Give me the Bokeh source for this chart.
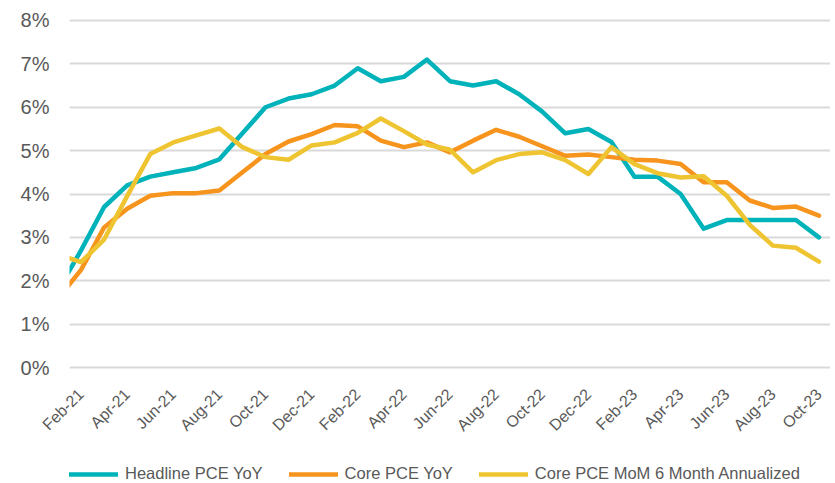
from bokeh.plotting import figure
from bokeh.models import Range1d, FixedTicker, Legend, LegendItem, ColumnDataSource
from bokeh.layouts import column
from bokeh.embed import file_html
from bokeh.resources import INLINE
import math

# ---- data ----
months = ["Jan-21", "Feb-21", "Mar-21", "Apr-21", "May-21", "Jun-21", "Jul-21", "Aug-21",
          "Sep-21", "Oct-21", "Nov-21", "Dec-21", "Jan-22", "Feb-22", "Mar-22", "Apr-22",
          "May-22", "Jun-22", "Jul-22", "Aug-22", "Sep-22", "Oct-22", "Nov-22", "Dec-22",
          "Jan-23", "Feb-23", "Mar-23", "Apr-23", "May-23", "Jun-23", "Jul-23", "Aug-23",
          "Sep-23", "Oct-23"]
headline_yoy = [1.78, 2.70, 3.70, 4.20, 4.40, 4.50, 4.60, 4.80, 5.40, 6.00, 6.20, 6.30,
                6.50, 6.90, 6.60, 6.70, 7.10, 6.60, 6.50, 6.60, 6.30, 5.90, 5.40, 5.50,
                5.20, 4.40, 4.40, 4.00, 3.20, 3.40, 3.40, 3.40, 3.40, 3.00]
core_yoy = [1.59, 2.25, 3.23, 3.66, 3.96, 4.02, 4.02, 4.08, 4.50, 4.92, 5.21, 5.38,
            5.59, 5.56, 5.23, 5.08, 5.19, 4.96, 5.23, 5.48, 5.32, 5.10, 4.88, 4.91,
            4.85, 4.79, 4.77, 4.69, 4.27, 4.27, 3.85, 3.68, 3.71, 3.50]
core_mom_6m = [2.61, 2.43, 2.95, 3.95, 4.92, 5.19, 5.35, 5.51, 5.08, 4.85, 4.79, 5.12,
               5.19, 5.41, 5.74, 5.45, 5.14, 5.02, 4.50, 4.78, 4.92, 4.96, 4.78, 4.46,
               5.08, 4.69, 4.48, 4.38, 4.41, 3.96, 3.29, 2.81, 2.76, 2.44]
series_names = ["Headline PCE YoY", "Core PCE YoY", "Core PCE MoM 6 Month Annualized"]
y_ticks = [0, 1, 2, 3, 4, 5, 6, 7, 8]
y_tick_labels = ["0%", "1%", "2%", "3%", "4%", "5%", "6%", "7%", "8%"]
x_tick_labels = ["Feb-21", "Apr-21", "Jun-21", "Aug-21", "Oct-21", "Dec-21", "Feb-22",
                 "Apr-22", "Jun-22", "Aug-22", "Oct-22", "Dec-22", "Feb-23", "Apr-23",
                 "Jun-23", "Aug-23", "Oct-23"]

colors = ["#00B2B9", "#F7941D", "#EFC431"]
text_color = "#595959"
font = "Liberation Sans"

# index positions: Feb-21 = 0
xs = [i - 1 for i in range(len(months))]
x_ticks = [months.index(m) - 1 for m in x_tick_labels]

source = ColumnDataSource(dict(x=xs, headline=headline_yoy, core=core_yoy, mom=core_mom_6m))
cols = ["headline", "core", "mom"]

p = figure(width=830, height=458, output_backend="svg", toolbar_location=None,
           x_range=Range1d(-0.5, 32.5), y_range=Range1d(-0.046, 8.046),
           min_border_left=69, min_border_right=0, min_border_top=18, min_border_bottom=89)
p.outline_line_color = None
p.background_fill_color = "white"
p.border_fill_color = "white"

# grid
p.xgrid.grid_line_color = None
p.ygrid.grid_line_color = "#D9D9D9"
p.ygrid.grid_line_width = 2
p.ygrid.ticker = FixedTicker(ticks=y_ticks)

# y axis
p.yaxis.ticker = FixedTicker(ticks=y_ticks)
p.yaxis.major_label_overrides = {t: l for t, l in zip(y_ticks, y_tick_labels)}
p.yaxis.axis_line_color = None
p.yaxis.major_tick_line_color = None
p.yaxis.minor_tick_line_color = None
p.yaxis.major_tick_out = 0
p.yaxis.major_tick_in = 0
p.yaxis.major_label_standoff = 20
p.yaxis.major_label_text_font = font
p.yaxis.major_label_text_font_size = "20px"
p.yaxis.major_label_text_color = text_color

# x axis
p.xaxis.ticker = FixedTicker(ticks=x_ticks)
p.xaxis.major_label_overrides = {t: l for t, l in zip(x_ticks, x_tick_labels)}
p.xaxis.axis_line_color = None
p.xaxis.major_tick_line_color = None
p.xaxis.minor_tick_line_color = None
p.xaxis.major_label_orientation = math.pi / 4
p.xaxis.major_label_standoff = 16
p.xaxis.major_label_text_font = font
p.xaxis.major_label_text_font_size = "16px"
p.xaxis.major_label_text_color = text_color

for col, c in zip(cols, colors):
    p.line("x", col, source=source, line_color=c, line_width=4.5,
           line_cap="round", line_join="round")

# ---- legend strip below the chart (frame aligned with the chart's frame) ----
lg = figure(width=830, height=25, output_backend="svg", toolbar_location=None,
            x_range=Range1d(-0.5, 32.5), y_range=Range1d(100, 101),
            min_border_left=69, min_border_right=0, min_border_top=0, min_border_bottom=0,
            x_axis_location=None, y_axis_location=None)
lg.outline_line_color = None
lg.grid.visible = False
# same series, out of view here: they only provide the legend swatches
proxies = [lg.line("x", col, source=source, line_color=c, line_width=4.5, line_cap="round")
           for col, c in zip(cols, colors)]

legend = Legend(items=[LegendItem(label=n, renderers=[r]) for n, r in zip(series_names, proxies)],
                location=(0, 0), orientation="horizontal")
legend.label_text_font = font
legend.label_text_font_size = "16.5px"
legend.label_text_color = text_color
legend.glyph_width = 49
legend.glyph_height = 16
legend.label_height = 16
legend.label_standoff = 7
legend.spacing = 26
legend.padding = 0
legend.margin = 0
legend.border_line_color = None
legend.background_fill_alpha = 0
lg.add_layout(legend)

layout = column(p, lg, spacing=0)
open("out.html", "w").write(file_html(layout, INLINE))
